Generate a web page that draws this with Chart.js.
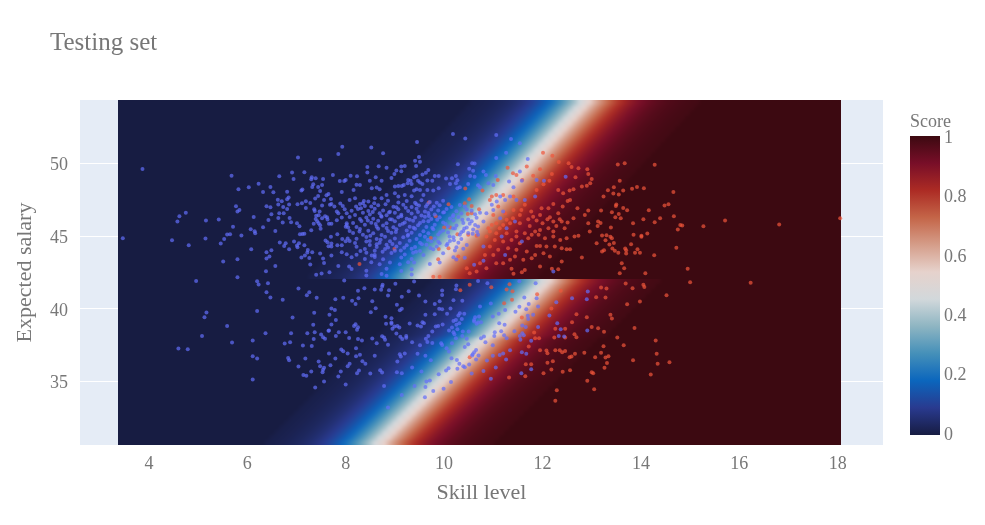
<!DOCTYPE html>
<html>
<head>
<meta charset="utf-8">
<title>Testing set</title>
<script src="https://cdn.jsdelivr.net/npm/chart.js@4"></script>
<style>
html, body { margin: 0; padding: 0; background: #fff; }
#wrap { width: 985px; height: 525px; }
</style>
</head>
<body>
<div id="wrap"><canvas id="chart" width="985" height="525"></canvas></div>
<script>
// axis ticks
const skillTicks = [4, 6, 8, 10, 12, 14, 16, 18];
const salaryTicks = [35, 40, 45, 50];
const scoreTicks = [0, 0.2, 0.4, 0.6, 0.8, 1];

// balance colour scale, 0 to 1
const balanceColors = ['#171c42', '#293a8f', '#0b66bd', '#4590b9', '#8eb5c2', '#d2d8db',
    '#e6d2cc', '#d59d89', '#c46548', '#ac2b24', '#780e28', '#3c0911'];

// heatmap: extent, score across the band, and the column each row's band starts at (bottom row first)
const heatSkillRange = [3.38, 18.07];
const heatSalaryRange = [30.64, 54.36];
const heatSplitSalary = 42.05;
const heatColumns = 148;
const bandProfile = [.01, .012, .015, .018, .022, .027, .032, .039, .047, .057, .069, .083, .1, .119, .142, .168, .198, .231, .269, .31, .354, .401, .45,
    .5, .55, .599, .646, .69, .731, .769, .802, .832, .858, .881, .9, .917, .931, .943, .953, .961, .968, .973, .978, .982, .985, .988, .99];
const upperBandStart = [39, 40, 41, 42, 43, 44, 45, 46, 47, 48, 49, 50, 51, 52, 53, 54, 55, 56, 57, 58, 59, 60, 61, 62, 63, 64, 65, 66, 67, 68, 69, 70, 71, 72];
const lowerBandStart = [30, 31, 32, 33, 34, 35, 36, 37, 38, 39, 40, 41, 42, 43, 44, 45, 46, 47, 48, 49, 50, 51, 53, 54, 55, 56, 57, 58, 59, 60, 61, 62, 63, 64];

// test points with label 0, [skill, salary]
const class0Points = [
[3.87,49.62],[3.47,44.86],[4.47,44.72],[4.81,44.38],[4.58,46.0],[4.62,46.37],[4.75,46.6],[5.16,46.07],[5.42,46.14],[5.15,44.83],
[5.46,44.49],[5.53,44.81],[5.59,45.11],[5.65,45.13],[5.71,45.64],[5.88,45.04],[5.51,43.25],[5.8,43.41],[5.8,42.17],[5.68,49.16],
[5.82,48.22],[6.03,48.36],[6.23,48.61],[6.32,48.04],[6.47,48.38],[6.53,48.02],[6.65,49.11],[6.91,49.37],[6.94,48.93],[7.03,50.4],
[7.16,49.39],[7.48,50.26],[7.93,51.15],[7.85,50.65],[7.74,49.21],[7.31,49.05],[7.3,48.91],[7.39,48.98],[7.54,48.93],[7.88,48.79],
[7.97,48.79],[8.0,48.86],[7.52,48.52],[7.34,48.57],[7.32,48.38],[7.44,48.38],[7.48,48.11],[7.12,48.2],[7.1,48.13],[6.81,48.06],
[6.84,47.65],[6.81,47.53],[6.62,47.51],[6.7,47.4],[6.63,47.17],[6.73,47.01],[6.85,47.17],[7.02,47.19],[7.11,47.26],[7.19,47.4],
[7.28,47.28],[7.38,47.58],[7.44,47.76],[7.56,47.49],[7.61,47.81],[7.65,47.9],[7.7,47.56],[7.92,48.04],[7.89,47.24],[7.94,47.08],
[7.77,47.03],[7.68,47.15],[7.71,47.21],[7.52,47.1],[7.36,46.85],[7.37,46.73],[7.47,46.69],[7.19,46.94],[6.81,46.87],[6.74,46.57],
[6.65,46.57],[6.49,46.5],[6.47,46.98],[6.39,47.05],[5.77,47.05],[5.84,46.8],[5.8,46.69],[6.13,46.32],[6.43,46.11],[6.63,46.25],
[6.86,46.25],[6.72,45.93],[6.89,45.95],[7.01,45.88],[7.06,45.68],[6.32,45.61],[6.07,45.47],[6.15,45.34],[6.16,45.2],[6.57,45.36],
[7.07,45.13],[7.12,45.15],[7.16,45.17],[7.3,45.4],[7.35,45.86],[7.4,46.41],[7.45,46.44],[7.39,46.18],[7.58,46.37],[7.62,46.3],
[7.52,46.23],[7.63,46.14],[7.42,46.02],[7.45,45.88],[7.48,45.75],[7.49,45.5],[7.66,45.86],[7.71,45.86],[7.82,46.09],[7.92,46.28],
[7.82,46.69],[7.85,46.57],[7.98,46.85],[8.02,45.88],[8.0,45.64],[8.05,45.59],[7.83,45.13],[7.93,44.81],[8.04,44.83],[8.0,44.65],
[7.7,44.95],[7.59,44.7],[7.63,44.58],[7.71,44.49],[7.65,44.31],[7.71,44.28],[7.83,44.38],[7.92,44.38],[6.66,44.56],[6.78,44.51],
[6.75,44.33],[6.95,44.63],[7.05,44.51],[7.01,44.35],[7.02,44.24],[6.85,44.1],[7.16,44.38],[7.23,44.05],[7.22,43.87],[7.32,43.9],
[7.48,43.8],[7.17,43.67],[7.1,43.53],[7.26,43.5],[7.54,43.46],[7.71,43.67],[7.92,43.9],[8.02,43.76],[7.56,43.16],[7.28,43.05],
[7.85,42.95],[8.07,42.91],[6.08,44.1],[6.49,44.03],[6.39,43.89],[6.45,43.6],[6.39,43.46],[6.57,42.95],[6.38,42.59],[7.4,42.34],
[7.51,42.43],[7.67,42.52],
[10.18,52.03],[10.43,51.71],[11.06,51.96],[11.36,51.68],[9.45,51.47],[11.54,51.39],[8.52,51.09],[8.76,50.7],[11.26,50.74],[11.06,50.38],
[11.7,50.31],[9.49,50.44],[9.41,50.19],[9.51,50.12],[10.28,49.94],[10.62,49.99],[10.57,50.01],[9.13,49.78],[9.2,49.83],[8.67,49.8],
[8.83,49.71],[8.44,49.76],[8.44,49.37],[9.03,49.51],[8.99,49.28],[9.13,49.46],[9.43,49.83],[9.68,49.55],[9.63,49.35],[9.56,49.23],
[9.44,49.14],[9.39,49.05],[8.1,49.16],[8.23,49.12],[8.61,49.05],[8.49,48.8],[8.73,48.8],[8.93,49.0],[8.69,48.22],[8.53,48.29],
[8.63,48.34],[8.22,48.54],[8.29,48.52],[8.16,48.18],[9.07,48.45],[9.14,48.45],[9.0,48.41],[9.27,48.86],[9.32,48.8],[9.26,48.63],
[9.34,48.59],[9.18,48.52],[9.47,48.8],[9.51,48.68],[9.56,48.59],[9.66,48.82],[9.81,49.14],[9.89,49.14],[9.76,48.8],[10.04,48.96],
[10.16,48.98],[10.24,49.14],[10.27,48.84],[10.12,48.59],[10.24,48.63],[10.51,49.64],[10.59,49.5],[10.62,49.09],[10.53,49.14],[10.8,49.44],
[10.85,49.21],[11.05,49.14],[10.9,48.63],[11.0,48.52],[10.69,48.5],[10.73,48.36],[10.27,48.29],[10.32,48.36],[10.49,48.59],[9.89,48.29],
[9.78,48.13],[9.66,48.18],[9.51,48.18],[9.44,48.22],[9.39,48.13],[9.58,47.83],[9.2,47.83],[9.34,47.74],[9.07,47.72],[9.0,47.95],
[8.83,47.83],[8.73,47.6],[8.59,47.6],[8.46,47.38],[8.35,47.26],[8.19,47.6],[8.08,47.49],[8.21,47.03],[8.29,47.21],[8.39,47.08],[8.52,47.03],
[8.86,47.44],[9.07,47.31],[9.24,47.42],[9.41,47.3],[9.54,47.46],[9.71,47.35],[9.85,47.29],[9.98,47.43],
[8.66,47.13],[8.97,47.02],[9.17,47.16],[9.34,47.0],[9.49,47.11],[9.66,47.19],[9.79,47.04],[9.91,47.12],[10.15,47.01],[10.32,47.14],[10.42,47.03],
[8.12,46.74],[8.25,46.86],[8.46,46.72],[8.59,46.88],[8.76,46.77],[8.9,46.68],[9.07,46.85],[9.27,46.73],[9.44,46.89],[9.61,46.7],[9.74,46.83],[9.88,46.76],[10.05,46.87],[10.25,46.71],[10.46,46.84],[10.56,46.75],
[8.02,46.58],[8.19,46.46],[8.35,46.6],[8.49,46.49],[8.69,46.57],[8.83,46.43],[9.0,46.61],[9.13,46.47],[9.34,46.55],[9.54,46.42],[9.68,46.59],[9.81,46.48],[9.98,46.62],[10.19,46.45],[10.35,46.56],[10.63,46.5],[10.73,46.6],
[8.08,46.31],[8.29,46.18],[8.42,46.29],[8.56,46.2],[8.73,46.33],[8.9,46.16],[9.07,46.3],[9.24,46.19],[9.41,46.28],[9.61,46.34],[9.74,46.17],[9.91,46.3],[10.12,46.21],[10.29,46.32],[10.49,46.15],[10.66,46.27],
[8.15,45.91],[8.32,46.04],[8.52,45.92],[8.66,46.06],[8.83,45.89],[9.0,46.03],[9.2,45.93],[9.37,46.05],[9.51,45.9],[9.68,46.02],[9.98,45.94],[10.19,46.07],[10.39,45.91],[10.56,46.03],
[8.02,45.76],[8.22,45.63],[8.39,45.78],[8.63,45.65],[8.76,45.74],[8.97,45.61],[9.1,45.77],[9.3,45.64],[9.47,45.75],[9.64,45.62],[9.81,45.79],[10.08,45.66],[10.25,45.73],[10.46,45.6],[10.63,45.77],
[8.08,45.36],[8.29,45.49],[8.46,45.37],[8.66,45.51],[8.86,45.35],[9.03,45.48],[9.24,45.38],[9.41,45.5],[9.58,45.34],[9.78,45.47],[9.98,45.39],[10.22,45.52],[10.39,45.36],[10.59,45.46],
[8.15,45.22],[8.35,45.09],[8.56,45.2],[8.73,45.08],[8.93,45.23],[9.27,45.1],[9.34,45.24],[9.51,45.07],[9.68,45.19],[9.88,45.11],[10.08,45.25],[10.32,45.09],[10.49,45.21],[10.69,45.1],
[8.22,44.82],[8.42,44.94],[8.63,44.8],[8.8,44.95],[9.0,44.84],[9.17,44.93],[9.44,44.81],[9.61,44.96],[9.81,44.83],[10.19,44.92],[10.35,44.8],
[8.08,44.66],[8.19,44.53],[8.49,44.67],[8.69,44.54],[8.9,44.65],[9.1,44.52],[9.3,44.68],[9.51,44.55],[9.74,44.64],[9.91,44.51],[10.12,44.66],[10.29,44.55],
[8.22,44.27],[8.49,44.39],[8.63,44.26],[8.83,44.4],[9.03,44.28],[9.24,44.38],[9.41,44.25],[9.64,44.41],[9.85,44.29],[10.05,44.37],[10.25,44.24],[10.46,44.39],
[8.39,44.12],[8.59,43.99],[8.8,44.11],[9.0,44.0],[9.34,44.13],[9.51,43.98],[9.78,44.1],[10.22,44.02],[10.39,44.14],
[8.22,43.72],[8.42,43.85],[8.59,43.7],[8.93,43.84],[9.2,43.73],[9.37,43.86],[9.58,43.71],[9.98,43.83],
[8.12,43.54],[8.39,43.42],[8.59,43.56],[8.76,43.41],[9.13,43.53],[9.34,43.43],[10.19,43.55],[10.25,43.4],[10.42,43.52],
[8.52,43.2],[8.69,43.07],[8.9,43.19],[9.1,43.06],[9.27,43.21],[9.71,43.08],[9.91,43.18],
[8.12,42.74],[8.42,42.62],[8.83,42.75],[9.13,42.6],[9.34,42.72],[8.42,42.3],[8.73,42.39],[8.83,42.28],[9.34,42.37],
[8.31,46.92],[8.55,46.66],[8.72,46.39],[8.94,46.14],[9.16,45.86],[9.38,45.57],[8.45,46.07],[8.61,45.83],[8.83,45.56],[9.02,45.29],
[9.26,45.02],[8.28,45.32],[8.5,45.03],[8.71,44.76],[8.95,44.46],[9.19,44.21],[9.47,46.66],[9.69,46.39],[9.86,46.12],[10.03,45.83],
[10.18,45.54],[10.35,45.27],[9.58,46.03],[9.76,45.57],[9.92,45.26],[10.11,44.98],[8.37,47.41],[8.58,47.26],[8.81,47.2],[9.03,46.98],
[9.22,46.95],[9.44,47.2],[9.63,47.03],[10.0,46.65],[10.18,46.37],[10.37,46.12],[10.52,45.85],[10.41,45.52],[10.58,45.17],[8.88,46.62],
[9.13,46.37],[9.3,46.12],[8.42,44.63],[8.63,44.45],[8.86,44.22],[9.12,44.02],[9.43,43.93],[9.67,44.75],[9.88,44.62],[10.07,44.48],
[10.2,44.72],[9.55,44.44],[9.72,44.19],[8.3,43.98],[8.53,43.67],[8.75,43.92],
[11.32,48.75],[11.54,49.44],[11.58,48.8],[11.41,48.36],[11.34,47.72],[11.14,47.72],[11.07,47.38],[11.24,47.49],[11.47,47.49],[11.64,47.49],
[11.85,47.72],[11.88,48.86],[12.03,48.8],[12.47,49.09],[10.97,47.15],[11.2,46.69],[11.0,46.8],[10.86,46.57],[11.14,46.23],[10.69,45.66],
[10.8,46.0],[10.67,45.31],[11.27,45.54],[11.44,46.0],[11.17,44.97],[11.58,44.63],[10.8,44.28],[11.24,43.71],[10.8,43.3],[10.61,43.03],
[12.22,42.57],[9.39,43.19],
[4.96,41.92],[6.2,41.9],[6.23,41.67],[6.42,41.76],[6.39,41.15],[6.47,40.78],[6.72,40.62],[7.04,41.4],[7.26,41.15],[7.21,40.94],
[7.41,40.76],[7.79,40.66],[7.95,40.76],[7.97,41.95],[7.71,40.02],[7.78,39.93],[7.36,39.73],[7.67,39.59],[7.8,39.24],[6.2,39.86],
[6.92,39.4],[5.17,39.75],[5.13,39.43],[5.59,38.83],[7.34,38.9],[7.71,38.92],[7.66,38.51],[7.65,38.49],[7.37,38.4],[7.22,38.33],
[6.89,38.33],[6.37,38.33],[5.08,38.14],[7.5,38.24],[7.54,38.05],[7.58,37.94],[7.8,38.14],[7.86,38.4],[8.0,38.4],[8.07,38.0],
[7.35,37.92],[6.11,37.82],[5.69,37.69],[6.87,37.71],[6.76,37.62],[7.13,37.48],[7.31,37.44],[4.6,37.27],[4.79,37.23],[7.91,37.21],
[7.95,37.09],[7.66,36.93],[8.04,36.93],[6.11,36.75],[6.2,36.59],[6.83,36.63],[6.85,36.47],[7.18,36.59],[7.79,36.59],[7.45,36.38],
[7.69,36.13],[7.04,36.04],[7.48,36.06],[8.04,36.06],[7.56,35.95],[7.54,35.81],[7.3,35.69],[7.53,35.65],[7.9,35.69],[7.14,35.46],
[7.2,35.4],[7.85,35.35],[6.11,35.14],[7.56,35.0],[8.0,34.8],[7.38,34.59],
[8.38,41.42],[8.25,41.24],[8.59,41.33],[8.75,41.65],[8.74,41.54],[8.72,41.31],[8.88,41.28],[8.86,40.92],[9.01,41.72],[9.39,41.88],
[9.28,41.21],[9.49,40.92],[9.14,40.83],[9.04,40.28],[8.54,40.53],[8.26,40.73],[8.13,40.55],[8.2,40.34],[8.61,40.05],[8.51,39.77],
[9.14,40.0],[9.1,39.91],[8.81,39.45],[8.93,39.36],[8.82,38.97],[8.93,39.06],[8.93,38.97],[9.05,38.83],[9.09,38.72],[8.99,38.79],
[8.95,38.63],[9.3,38.99],[9.46,38.85],[9.53,38.79],[9.56,39.08],[9.59,39.01],[8.2,38.95],[8.17,38.83],[8.25,38.74],[8.23,38.56],
[8.25,37.92],[8.33,37.82],[8.54,37.96],[8.74,38.12],[8.78,38.03],[8.8,37.87],[8.63,37.64],[8.86,37.53],[9.03,38.3],[9.11,38.08],
[9.15,37.92],[9.23,38.14],[9.23,38.01],[9.35,37.71],[9.51,37.5],[8.21,37.3],[8.29,36.84],[8.21,36.75],[8.34,36.4],[8.4,36.22],
[8.59,36.77],[9.1,36.88],[9.12,36.72],[9.2,36.93],[9.05,36.38],[9.46,36.91],[9.62,36.77],[9.73,36.47],[8.08,36.22],[8.27,35.76],
[8.23,35.58],[8.5,35.56],[8.7,35.78],[8.74,35.62],[9.04,35.65],[9.14,35.58],[9.35,35.97],[9.54,35.69],[8.78,34.69],[9.4,34.69],
[9.14,34.07],[8.86,33.22],
[9.62,40.5],[9.81,40.34],[9.91,40.53],[9.9,40.0],[9.96,39.98],[10.13,40.02],[10.19,40.6],[10.37,40.55],[10.06,39.66],[9.81,39.63],
[9.62,39.59],[9.96,40.96],[9.96,41.26],[10.24,41.35],[10.25,41.6],[10.69,41.92],[10.88,41.76],[11.53,41.9],[11.86,41.76],[11.63,40.78],
[11.88,40.73],[12.28,40.46],[12.6,40.73],[12.9,40.66],[12.92,41.19],[11.72,40.34],[11.91,40.16],[11.53,40.14],[11.24,39.93],[11.45,39.8],
[11.67,39.98],[10.95,40.37],[10.73,40.16],[11.11,39.66],[10.99,39.47],[11.81,39.59],[11.7,39.52],[11.71,39.31],[12.14,39.54],[10.32,39.7],
[10.41,39.66],[10.29,39.54],[10.36,39.31],[10.24,39.24],[10.19,39.17],[10.31,39.01],[10.25,38.9],[10.63,39.43],[10.61,39.24],[10.71,39.47],
[10.69,39.06],[10.75,39.08],[10.61,39.13],[10.66,38.97],[9.97,38.92],[9.88,38.83],[9.83,38.79],[9.76,38.44],[9.68,38.14],[9.63,37.94],
[9.66,37.73],[9.76,37.66],[9.94,37.64],[9.96,37.52],[10.27,38.6],[10.16,38.72],[10.1,38.51],[10.19,38.4],[10.21,38.26],[10.24,37.98],
[10.38,38.44],[10.37,38.14],[10.46,37.94],[10.5,38.44],[10.16,37.64],[10.05,37.3],[10.1,37.07],[10.49,37.57],[10.42,37.37],[10.75,37.98],
[10.81,38.1],[10.84,37.71],[11.02,38.14],[11.03,38.4],[11.12,39.01],[11.23,38.9],[11.16,38.46],[11.22,38.19],[11.27,37.98],[11.43,38.46],
[11.59,38.85],[11.66,38.76],[11.91,38.76],[11.59,38.33],[11.54,38.14],[11.62,38.19],[11.55,37.87],[11.77,37.8],[10.99,37.5],[11.34,37.16],
[11.58,37.02],[11.67,36.91],[11.2,36.93],[11.13,36.82],[10.99,36.77],[10.65,37.18],[10.61,37.02],[10.58,36.88],[10.57,36.79],[10.7,36.79],
[10.15,36.61],[10.26,36.49],[10.31,36.22],[10.39,36.06],[10.42,35.99],[10.51,36.17],[10.65,36.52],[10.87,36.45],[11.26,36.52],[11.05,35.97],
[10.8,35.72],[10.56,35.56],[10.27,35.88],[10.09,35.92],[10.04,35.76],[9.89,35.51],[9.71,35.07],[9.64,35.0],[9.62,34.62],[9.78,34.36],
[9.99,34.5],[10.14,34.98],[9.61,33.93],[10.95,35.19],[11.57,35.58],[11.77,35.85],[12.3,39.01],[12.37,38.6],[12.33,38.14],[12.44,38.1],[12.91,38.51]
];

// test points with label 1, [skill, salary]
const class1Points = [
[10.43,48.27],[10.78,48.13],[9.69,47.31],[10.09,47.2],[9.83,46.37],[10.0,45.59],[10.12,45.59],[9.73,44.88],[8.99,44.12],[8.28,43.09],
[9.89,44.12],[10.09,44.17],[10.27,45.13],[10.42,47.26],[10.56,47.08],[10.56,46.57],[10.71,46.85],[10.48,46.53],[10.51,47.54],[10.66,45.02],
[10.49,45.09],[10.29,43.6],[10.25,43.37],[9.88,43.41],[9.78,42.2],[9.91,42.2],[10.52,42.45],[11.29,49.71],[11.09,48.86],[11.4,49.32],
[11.47,49.21],[11.68,49.78],[11.59,48.86],[12.01,50.74],[12.2,50.52],[12.33,50.1],[12.53,50.01],[12.59,49.76],[12.73,49.67],[12.91,49.6],
[12.93,49.28],[11.95,49.6],[11.81,49.16],[12.19,49.28],[12.67,49.05],[13.0,48.93],[12.14,48.8],[12.02,48.57],[11.88,48.18],[12.32,48.18],
[12.55,48.13],[12.63,48.22],[12.8,48.41],[12.9,48.47],[12.97,48.63],[12.42,47.95],[12.22,47.21],[12.51,47.42],[12.56,47.49],[12.41,47.03],
[12.71,46.92],[12.93,46.76],[12.86,46.46],[12.32,46.57],[12.12,46.92],[11.98,46.92],[11.64,47.15],[11.57,46.8],[11.77,46.69],[11.95,46.46],
[12.15,46.3],[12.35,46.16],[12.51,45.93],[12.1,46.16],[11.88,46.07],[11.71,46.16],[11.54,46.46],[11.4,46.23],[11.34,45.89],[11.54,45.89],
[11.74,45.7],[11.95,45.43],[12.12,45.54],[12.28,45.7],[12.45,45.54],[12.93,45.89],[13.13,46.0],[12.96,45.32],[13.12,45.7],[13.1,44.51],
[12.73,45.02],[12.65,44.97],[12.49,44.86],[12.36,44.74],[12.22,44.97],[12.05,44.86],[11.92,45.09],[11.78,45.09],[11.64,45.2],[11.47,45.32],
[11.27,45.2],[11.13,45.54],[11.06,45.2],[10.93,45.32],[10.86,44.97],[11.03,44.74],[11.2,44.63],[11.37,44.74],[11.54,44.51],[11.71,44.86],
[11.88,44.33],[11.95,44.33],[12.08,44.28],[12.25,44.28],[12.39,44.17],[12.49,44.1],[12.56,44.1],[12.8,43.53],[12.39,43.25],[12.15,43.6],
[12.02,43.83],[11.85,43.71],[11.68,43.94],[11.47,44.06],[11.3,44.17],[11.1,44.06],[10.93,44.28],[11.0,43.71],[10.83,43.71],[10.73,43.14],
[10.86,42.8],[11.06,43.14],[11.2,43.14],[11.34,43.37],[11.44,43.6],[11.61,43.37],[11.78,43.48],[11.95,42.91],[12.19,42.75],[12.32,42.73],
[11.37,42.75],[11.41,42.41],[11.58,42.52],[11.64,42.68],[10.66,42.57],[10.46,42.8],
[11.0,46.46],[11.24,46.57],[11.1,47.03],[10.93,47.49],[11.41,47.72],[11.2,47.83],[11.06,47.83],[10.97,47.72],[11.41,46.8],[11.27,46.12],
[11.06,45.89],[10.97,45.77],[10.9,45.54],[11.2,45.77],[11.47,44.97],[11.81,46.34],[12.0,45.89],[12.22,46.0],[12.39,46.0],[12.63,46.23],
[11.85,45.32],[12.22,45.32],
[13.53,49.92],[13.67,50.01],[14.28,49.9],[13.57,48.8],[13.45,48.36],[13.33,48.16],[13.64,48.13],[13.82,48.25],[13.92,48.38],[14.06,48.29],
[13.24,47.72],[13.44,47.93],[13.55,47.86],[14.66,48.04],[13.5,47.17],[13.49,47.08],[13.64,46.94],[13.72,46.78],[13.19,46.76],[13.41,46.64],
[13.55,46.53],[13.48,46.3],[13.59,46.23],[14.16,46.78],[14.48,47.1],[14.56,47.19],[14.67,46.37],[14.39,46.23],[14.05,46.16],[13.84,45.89],
[14.28,45.96],[13.18,45.91],[13.39,45.59],[14.8,45.77],[14.84,45.73],[14.75,45.45],[15.27,45.68],[15.71,46.07],[16.81,45.8],[18.05,46.23],
[14.13,45.18],[13.85,45.09],[14.01,45.02],[14.01,44.95],[13.21,45.04],[13.3,45.06],[13.38,44.95],[13.41,44.86],[13.28,44.72],[13.45,44.53],
[13.36,44.42],[13.8,44.44],[14.72,44.21],[13.42,44.15],[13.68,44.15],[13.7,44.03],[13.93,44.1],[13.25,44.03],[13.21,43.94],[13.47,43.99],
[13.54,43.85],[13.7,43.8],[13.88,43.85],[13.98,43.85],[14.27,43.69],[13.61,43.14],[13.66,42.8],[14.95,42.75],[13.57,42.45],[14.09,42.45],
[15.0,41.83],[16.23,41.79],[13.69,41.74],[13.19,41.47],[13.3,41.4],[13.83,41.42],[14.05,41.65],[14.07,41.51],[14.52,40.94],[13.28,40.78],
[13.98,40.5],[14.3,37.82],[14.32,36.91],[14.34,36.22],[14.58,36.33],[14.2,35.49],
[10.33,41.28],[10.52,41.65],[10.96,41.49],[11.27,41.33],[11.33,41.7],[11.39,41.21],[11.38,40.62],[11.22,40.39],[11.58,39.4],[11.89,41.01],
[12.18,40.02],[12.37,41.24],[11.83,38.37],[11.85,37.98],[11.93,37.98],[11.72,37.41],[10.52,36.68],[11.32,35.28],[11.65,35.37],[11.66,36.2],
[11.77,36.2],[12.02,35.58],[12.1,36.29],[12.21,36.4],[12.18,35.83],[12.41,35.67],[12.56,35.78],[11.95,37.16],[12.08,37.14],[12.1,36.95],
[12.26,37.16],[12.35,37.16],[12.4,37.02],[12.46,37.11],[12.55,36.68],[12.59,36.72],[12.66,36.91],[12.85,36.99],[13.07,36.68],[13.19,36.99],
[13.28,36.65],[13.34,36.75],[13.31,36.27],[13.26,35.95],[13.0,35.65],[13.03,35.58],[12.91,35.05],[13.05,34.48],[12.29,34.41],[12.26,33.68],
[12.24,38.03],[12.26,38.63],[12.46,38.63],[12.46,38.03],[12.65,38.26],[12.69,38.05],[12.6,39.08],[12.69,39.63],[12.9,39.43],[13.0,38.76],
[13.13,38.67],[13.25,38.42],[13.52,38.03],[13.65,37.5],[13.24,37.43],[13.84,36.47],[13.87,38.69],[13.72,40.32],[13.41,39.34],[13.38,39.59],
[13.09,40.8]
];

const textColor = '#777777';
const fontFamily = '"Liberation Serif", "Times New Roman", serif';

function hexToRgb(hex) {
    return [1, 3, 5].map(i => parseInt(hex.slice(i, i + 2), 16));
}

function scoreToRgb(score) {
    const pos = score * (balanceColors.length - 1);
    const low = Math.min(Math.floor(pos), balanceColors.length - 2);
    const a = hexToRgb(balanceColors[low]);
    const b = hexToRgb(balanceColors[low + 1]);
    return a.map((v, i) => Math.round(v + (b[i] - v) * (pos - low)));
}

// rows come in bottom first, the bitmap wants the top row first
function buildHeatImage(bandStarts) {
    const off = document.createElement('canvas');
    off.width = heatColumns;
    off.height = bandStarts.length;
    const offCtx = off.getContext('2d');
    const img = offCtx.createImageData(off.width, off.height);
    bandStarts.slice().reverse().forEach((start, r) => {
        for (let c = 0; c < heatColumns; c++) {
            const k = c - start;
            const score = k < 0 ? 0 : (k >= bandProfile.length ? 1 : bandProfile[k]);
            const rgb = scoreToRgb(score);
            const i = (r * heatColumns + c) * 4;
            img.data[i] = rgb[0];
            img.data[i + 1] = rgb[1];
            img.data[i + 2] = rgb[2];
            img.data[i + 3] = 255;
        }
    });
    offCtx.putImageData(img, 0, 0);
    return off;
}

const upperImage = buildHeatImage(upperBandStart);
const lowerImage = buildHeatImage(lowerBandStart);

const plotBackground = {
    id: 'plotBackground',
    beforeDraw(chart) {
        const { ctx, chartArea } = chart;
        ctx.save();
        ctx.fillStyle = '#e5ecf6';
        ctx.fillRect(chartArea.left, chartArea.top, chartArea.width, chartArea.height);
        ctx.restore();
    }
};

const heatmapLayer = {
    id: 'heatmapLayer',
    beforeDatasetsDraw(chart) {
        const { ctx, scales } = chart;
        const left = scales.x.getPixelForValue(heatSkillRange[0]);
        const right = scales.x.getPixelForValue(heatSkillRange[1]);
        const top = scales.y.getPixelForValue(heatSalaryRange[1]);
        const split = scales.y.getPixelForValue(heatSplitSalary);
        const bottom = scales.y.getPixelForValue(heatSalaryRange[0]);
        ctx.save();
        ctx.imageSmoothingEnabled = true;
        ctx.imageSmoothingQuality = 'high';
        ctx.drawImage(upperImage, left, top, right - left, split - top);
        ctx.drawImage(lowerImage, left, split, right - left, bottom - split);
        ctx.restore();
    }
};

// chart title and the colour bar sit outside what the scales lay out
const titleAndColorbar = {
    id: 'titleAndColorbar',
    afterDraw(chart) {
        const ctx = chart.ctx;
        ctx.save();
        ctx.fillStyle = textColor;
        ctx.textBaseline = 'middle';
        ctx.font = '25px ' + fontFamily;
        ctx.textAlign = 'left';
        ctx.fillText('Testing set', 50, 43.5);

        const barLeft = 910, barWidth = 30, barTop = 136, barBottom = 435;
        const grad = ctx.createLinearGradient(0, barBottom, 0, barTop);
        balanceColors.forEach((c, i) => grad.addColorStop(i / (balanceColors.length - 1), c));
        ctx.fillStyle = grad;
        ctx.fillRect(barLeft, barTop, barWidth, barBottom - barTop);

        ctx.fillStyle = textColor;
        ctx.font = '18px ' + fontFamily;
        ctx.fillText('Score', barLeft, 122);
        scoreTicks.forEach(t => {
            const y = barBottom - t * (barBottom - barTop - 2);
            ctx.fillText(String(t), barLeft + barWidth + 4, y);
        });
        ctx.restore();
    }
};

new Chart(document.getElementById('chart'), {
    type: 'scatter',
    data: {
        datasets: [
            {
                label: '0',
                data: class0Points.map(p => ({ x: p[0], y: p[1] })),
                backgroundColor: 'rgba(99, 110, 250, 0.7)',
                pointRadius: 2,
                borderWidth: 0
            },
            {
                label: '1',
                data: class1Points.map(p => ({ x: p[0], y: p[1] })),
                backgroundColor: 'rgba(239, 85, 59, 0.7)',
                pointRadius: 2,
                borderWidth: 0
            }
        ]
    },
    options: {
        responsive: false,
        animation: false,
        layout: { padding: { top: 100, right: 102, bottom: 0, left: 0 } },
        plugins: {
            legend: { display: false },
            title: { display: false },
            tooltip: { enabled: false }
        },
        scales: {
            x: {
                type: 'linear',
                min: 2.6,
                max: 18.92,
                afterBuildTicks: scale => { scale.ticks = skillTicks.map(v => ({ value: v })); },
                afterFit: scale => { scale.height = 80; },
                grid: { color: '#ffffff', drawTicks: false },
                border: { display: false },
                ticks: {
                    color: textColor,
                    font: { family: fontFamily, size: 18 },
                    padding: 8,
                    maxRotation: 0
                },
                title: {
                    display: true,
                    text: 'Skill level',
                    color: textColor,
                    font: { family: fontFamily, size: 22 },
                    padding: { top: 0, bottom: 19 }
                }
            },
            y: {
                type: 'linear',
                min: 30.64,
                max: 54.36,
                afterBuildTicks: scale => { scale.ticks = salaryTicks.map(v => ({ value: v })); },
                afterFit: scale => { scale.width = 80; },
                grid: { color: '#ffffff', drawTicks: false },
                border: { display: false },
                ticks: {
                    color: textColor,
                    font: { family: fontFamily, size: 18 },
                    padding: 12,
                    labelOffset: 2
                },
                title: {
                    display: true,
                    text: 'Expected salary',
                    color: textColor,
                    font: { family: fontFamily, size: 22 },
                    padding: { top: 12, bottom: 0 }
                }
            }
        }
    },
    plugins: [plotBackground, heatmapLayer, titleAndColorbar]
});
</script>
</body>
</html>
